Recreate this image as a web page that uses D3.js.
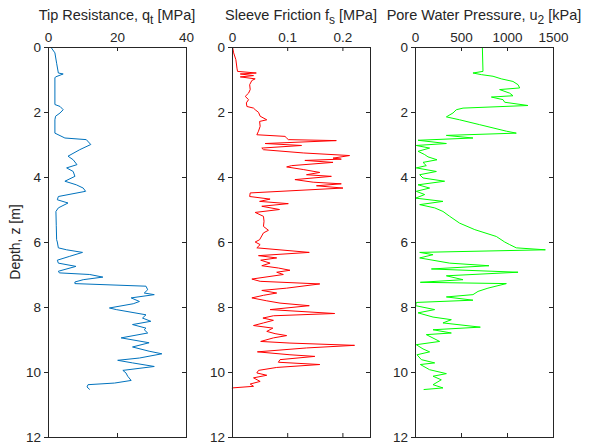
<!DOCTYPE html>
<html>
<head>
<meta charset="utf-8">
<script src="https://cdn.jsdelivr.net/npm/d3@7"></script>
<style>
body{margin:0;background:#fff;}
text{font-family:"Liberation Sans",Arial,sans-serif;fill:#262626;}
</style>
</head>
<body>
<script>
// depth [m] and values
var tipDepth = [0,0.18,0.5,0.8,0.83,0.92,0.95,1.77,1.83,1.93,2.03,2.13,2.24,2.65,2.8,2.85,3.0,3.16,3.36,3.47,3.62,3.72,3.83,3.98,4.13,4.24,4.34,4.44,4.6,4.7,4.8,4.95,5.06,5.5,5.93,6.0,6.18,6.24,6.32,6.44,6.56,6.65,6.75,6.9,6.95,7.0,7.08,7.16,7.23,7.28,7.36,7.47,7.57,7.62,7.72,7.83,7.9,8.03,8.08,8.24,8.34,8.44,8.54,8.65,8.7,8.8,8.95,9.1,9.23,9.36,9.44,9.57,9.64,9.72,9.83,9.95,10.03,10.13,10.26,10.34,10.39,10.46,10.54];
var tipQt = [0.8,2.0,2.5,3.0,4.4,2.2,2.0,2.0,3.5,4.4,3.5,2.2,2.0,2.0,4.9,11.1,12.4,9.2,5.8,7.3,8.4,5.4,7.3,7.8,4.9,8.2,10.2,10.9,3.0,2.7,5.8,3.0,2.3,2.4,2.5,2.7,3.0,5.4,10.0,6.3,2.7,3.0,8.1,3.0,3.3,12.1,15.9,10.2,7.8,7.8,28.4,28.9,27.9,30.8,24.1,26.5,24.7,17.8,19.8,28.4,27.4,29.8,24.5,28.4,27.9,28.9,21.2,29.3,24.5,29.3,33.0,26.5,20.2,24.5,30.8,21.7,22.6,23.1,24.1,19.3,11.6,11.3,12.1];

var fsDepth = [0,0.18,0.39,0.65,0.75,0.8,0.83,0.88,0.92,0.98,1.03,1.16,1.31,1.42,1.52,1.62,1.72,1.83,1.88,1.93,2.01,2.13,2.24,2.29,2.44,2.59,2.7,2.75,2.8,2.85,2.88,2.97,3.03,3.11,3.16,3.26,3.34,3.42,3.45,3.49,3.55,3.65,3.69,3.77,3.86,3.93,3.98,4.08,4.16,4.21,4.27,4.34,4.49,4.6,4.68,4.75,4.82,4.9,5.0,5.09,5.21,5.36,5.52,5.64,5.72,5.93,6.0,6.08,6.18,6.32,6.42,6.49,6.56,6.65,6.73,6.8,6.87,6.93,7.0,7.14,7.21,7.29,7.42,7.49,7.57,7.64,7.72,7.81,7.88,7.96,8.08,8.2,8.27,8.34,8.41,8.49,8.57,8.65,8.75,8.82,8.88,8.95,9.06,9.11,9.18,9.26,9.38,9.47,9.52,9.62,9.7,9.77,9.86,9.95,10.03,10.1,10.18,10.29,10.37,10.44,10.49,10.5];
var fsValue = [0.001,0.003,0.007,0.009,0.010,0.044,0.015,0.039,0.015,0.042,0.036,0.032,0.033,0.030,0.024,0.030,0.026,0.027,0.039,0.042,0.048,0.051,0.063,0.050,0.051,0.048,0.045,0.096,0.099,0.102,0.189,0.060,0.126,0.054,0.057,0.129,0.213,0.183,0.198,0.132,0.183,0.108,0.099,0.129,0.159,0.135,0.180,0.114,0.147,0.198,0.153,0.201,0.033,0.032,0.069,0.050,0.102,0.054,0.086,0.042,0.057,0.058,0.057,0.066,0.057,0.050,0.042,0.051,0.045,0.140,0.048,0.081,0.052,0.069,0.054,0.084,0.105,0.081,0.093,0.036,0.051,0.159,0.099,0.054,0.081,0.057,0.036,0.063,0.087,0.140,0.069,0.186,0.075,0.056,0.075,0.057,0.039,0.074,0.063,0.078,0.099,0.075,0.052,0.105,0.222,0.135,0.046,0.105,0.150,0.087,0.084,0.159,0.081,0.048,0.045,0.063,0.039,0.051,0.033,0.039,0.0,0.0];

var u2Depth = [0,0.75,0.8,0.85,0.9,0.98,1.06,1.16,1.26,1.31,1.42,1.5,1.54,1.62,1.7,1.8,1.88,1.93,2.03,2.15,2.24,2.39,2.49,2.59,2.65,2.72,2.8,2.87,2.97,3.03,3.11,3.21,3.31,3.38,3.47,3.55,3.65,3.72,3.83,3.93,4.03,4.13,4.24,4.34,4.44,4.54,4.65,4.75,4.85,4.95,5.06,5.21,5.42,5.62,5.83,6.0,6.08,6.18,6.24,6.32,6.39,6.49,6.65,6.73,6.83,6.93,7.04,7.16,7.24,7.28,7.42,7.52,7.62,7.69,7.79,7.86,7.96,8.08,8.18,8.31,8.39,8.49,8.62,8.7,8.8,8.85,9.06,9.16,9.29,9.38,9.47,9.62,9.72,9.77,9.93,10.05,10.13,10.24,10.39,10.49,10.54];
var u2Value = [732,739,630,721,848,938,1065,1120,1138,920,1029,1065,830,957,975,1228,522,449,413,341,485,703,848,993,1101,341,630,33,341,14,159,33,105,141,239,87,123,14,232,51,87,322,33,159,14,105,7,304,51,214,304,377,485,650,884,975,1029,1101,1417,51,196,51,377,804,178,1120,341,522,58,993,793,685,630,341,630,14,7,214,33,196,395,304,710,196,395,123,268,14,87,159,22,69,214,58,159,341,196,286,196,304,94];

var titles = ["Tip Resistance, q|t| [MPa]", "Sleeve Friction f|s| [MPa]", "Pore Water Pressure, u|2| [kPa]"];
var xTicks = [[0,20,40],[0,0.1,0.2],[0,500,1000,1500]];
var xMax = [40,0.25,1500];
var depthTicks = [0,2,4,6,8,10,12];
var colors = ["#0072BD","#FF0000","#00FF00"];

var width = 592, height = 447;
var svg = d3.select("body").append("svg").attr("width",width).attr("height",height);

var topY = 47, bottomY = 437, boxW = 138;
var lefts = [48,232,415];

var y = d3.scaleLinear().domain([0,12]).range([topY,bottomY]);

var series = [
  {depth: tipDepth, val: tipQt},
  {depth: fsDepth, val: fsValue},
  {depth: u2Depth, val: u2Value}
];

series.forEach(function(s,i){
  var x = d3.scaleLinear().domain([0,xMax[i]]).range([lefts[i],lefts[i]+boxW]);
  var g = svg.append("g");

  // curve
  var pts = s.depth.map(function(d,k){return [s.val[k], d];});
  g.append("path").datum(pts)
    .attr("fill","none").attr("stroke",colors[i]).attr("stroke-width",1)
    .attr("stroke-linejoin","round")
    .attr("d", d3.line().x(function(p){return x(p[0]);}).y(function(p){return y(p[1]);}));

  // box
  g.append("rect").attr("x",lefts[i]+0.5).attr("y",topY+0.5).attr("width",boxW).attr("height",bottomY-topY)
    .attr("fill","none").attr("stroke","#262626").attr("stroke-width",1);

  // top axis, ticks inward
  var topAx = d3.axisTop(x).tickValues(xTicks[i]).tickSizeInner(-4).tickSizeOuter(0).tickPadding(5)
    .tickFormat(function(d){return d3.format("")(d);});
  var ta = g.append("g").attr("transform","translate(0,"+topY+")").call(topAx);
  ta.select(".domain").remove();
  ta.selectAll("line").attr("stroke","#262626");
  ta.selectAll("text").style("font-size","13.5px").attr("fill","#262626");

  // bottom ticks inward
  var botAx = d3.axisBottom(x).tickValues(xTicks[i]).tickSizeInner(-4).tickSizeOuter(0).tickFormat("");
  var ba = g.append("g").attr("transform","translate(0,"+bottomY+")").call(botAx);
  ba.select(".domain").remove();
  ba.selectAll("line").attr("stroke","#262626");

  // left axis, labelled
  var leftAx = d3.axisLeft(y).tickValues(depthTicks).tickSizeInner(4).tickSizeOuter(0).tickPadding(3);
  var la = g.append("g").attr("transform","translate("+lefts[i]+",0)").call(leftAx);
  la.select(".domain").remove();
  la.selectAll("line").attr("stroke","#262626");
  la.selectAll("text").style("font-size","13.5px").attr("fill","#262626");

  // right ticks inward
  var rightAx = d3.axisRight(y).tickValues(depthTicks).tickSizeInner(-4).tickSizeOuter(0).tickFormat("");
  var ra = g.append("g").attr("transform","translate("+(lefts[i]+boxW)+",0)").call(rightAx);
  ra.select(".domain").remove();
  ra.selectAll("line").attr("stroke","#262626");

  // title with subscript
  var parts = titles[i].split("|");
  var t = svg.append("text").attr("x",lefts[i]+boxW/2).attr("y",20)
    .attr("text-anchor","middle").style("font-size","14.5px");
  t.append("tspan").text(parts[0]);
  t.append("tspan").attr("dy",4).style("font-size","12px").text(parts[1]);
  t.append("tspan").attr("dy",-4).text(parts[2]);
});

svg.append("text")
  .attr("transform","translate(20,"+((topY+bottomY)/2)+") rotate(-90)")
  .attr("text-anchor","middle").style("font-size","14px")
  .text("Depth, z [m]");
</script>
</body>
</html>
